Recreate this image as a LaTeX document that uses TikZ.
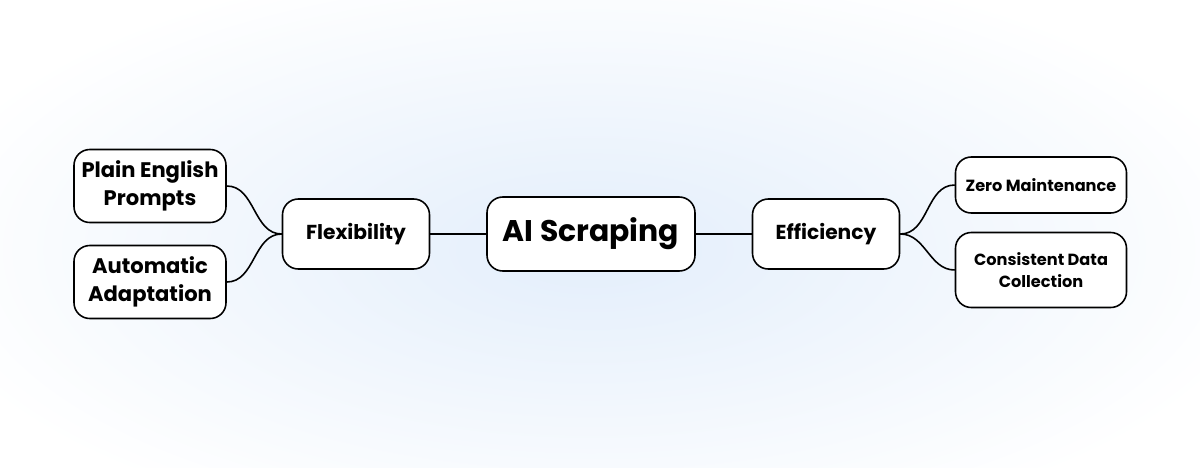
\documentclass[tikz,border=0pt]{standalone}
\usepackage{fontspec}
\setmainfont{Poppins}
\begin{document}
\begin{tikzpicture}[x=0.02cm,y=-0.02cm]
\tikzset{box/.style={draw=black,line width=0.9pt,rounded corners=9pt,fill=white,align=center,font=\bfseries,inner sep=0pt},
  link/.style={line width=0.9pt}}
\definecolor{bgblue}{HTML}{E3EEFB}
\useasboundingbox (0,0) rectangle (1200,467);
\begin{scope}
\clip (0,0) rectangle (1200,467);
\fill[white] (0,0) rectangle (1200,467);
\shade[inner color=bgblue,outer color=white,xscale=2.3] (591/2.3,250) circle (300);
\end{scope}
% main topic
\node[box,minimum width=208*0.02cm,minimum height=74*0.02cm,font=\bfseries\fontsize{17}{20}\selectfont] (ai) at (591,234) {AI Scraping};
\node[box,minimum width=147*0.02cm,minimum height=70*0.02cm,font=\bfseries\fontsize{11.5}{14}\selectfont] (flex) at (356,234) {Flexibility};
\node[box,minimum width=147*0.02cm,minimum height=70*0.02cm,font=\bfseries\fontsize{11.5}{14}\selectfont] (eff) at (826,234) {Efficiency};
% left branch
\node[box,minimum width=152*0.02cm,minimum height=73*0.02cm,font=\bfseries\fontsize{12}{16}\selectfont] (plain) at (150,186) {Plain English\\Prompts};
\node[box,minimum width=152*0.02cm,minimum height=73*0.02cm,font=\bfseries\fontsize{12}{16}\selectfont] (auto) at (150,282) {Automatic\\Adaptation};
% right branch
\node[box,minimum width=171*0.02cm,minimum height=56*0.02cm,font=\bfseries\fontsize{9.2}{12.5}\selectfont] (zero) at (1041,185) {Zero Maintenance};
\node[box,minimum width=171*0.02cm,minimum height=75*0.02cm,font=\bfseries\fontsize{9.2}{12.5}\selectfont] (cons) at (1041,270) {Consistent Data\\Collection};
% connectors
\draw[link] (flex) -- (ai);
\draw[link] (ai) -- (eff);
\draw[link] (flex.west) to[out=180,in=0] (plain.east);
\draw[link] (flex.west) to[out=180,in=0] (auto.east);
\draw[link] (eff.east) to[out=0,in=180] (zero.west);
\draw[link] (eff.east) to[out=0,in=180] (cons.west);
\end{tikzpicture}
\end{document}
